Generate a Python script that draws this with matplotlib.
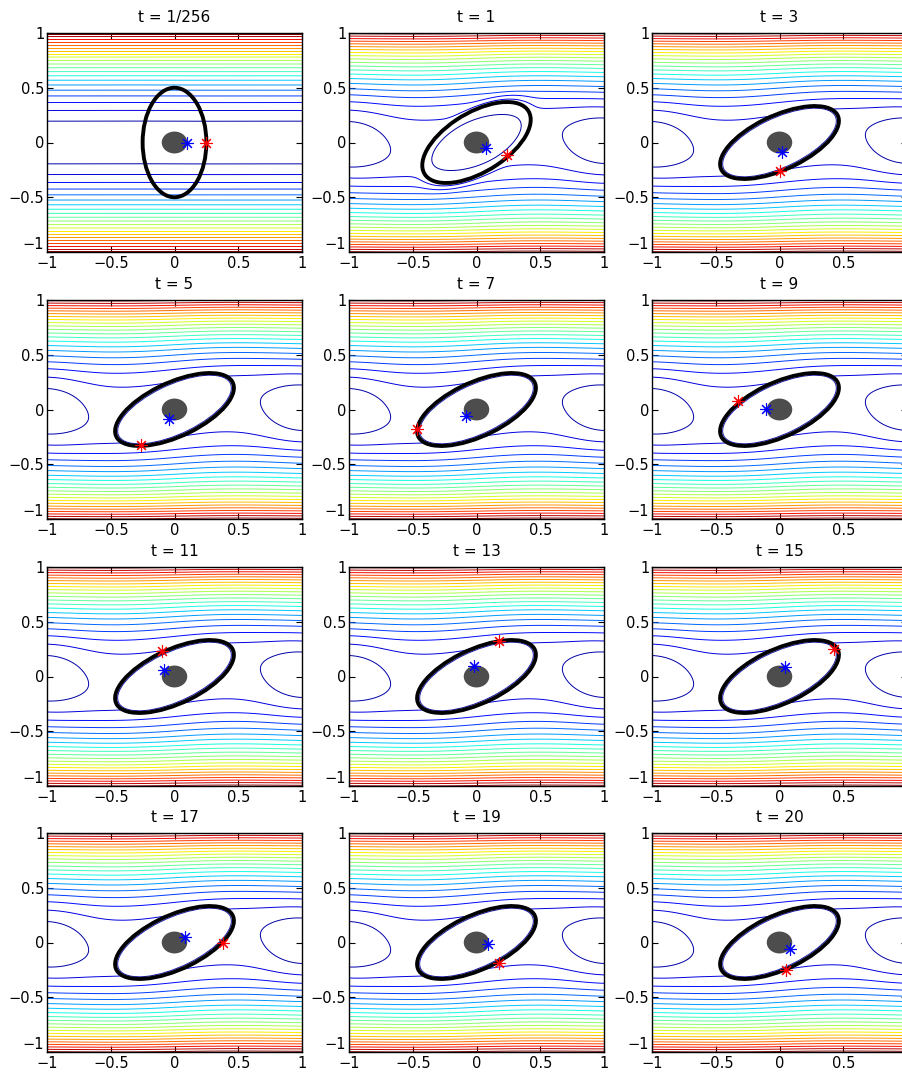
import numpy as np
import matplotlib
matplotlib.use('Agg')
import matplotlib.pyplot as plt
from matplotlib.patches import Ellipse, Circle

plt.rcParams['font.family'] = ['DejaVu Sans']

titles = ['t = 1/256', 't = 1', 't = 3', 't = 5', 't = 7', 't = 9',
          't = 11', 't = 13', 't = 15', 't = 17', 't = 19', 't = 20']
# flow state of each panel: initial, transient, steady tank-treading
state = ['init', 'tran'] + ['steady'] * 10

# vesicle (ellipse): semi-axes and tilt of the long axis in degrees
ell_a = [0.50, 0.50] + [0.52] * 10
ell_b = [0.25, 0.26] + [0.24] * 10
ell_ang = [90, 38] + [30] * 10

# tracer points: blue inside, red on the membrane
blue_x = [0.10, 0.075, 0.017, -0.04, -0.085, -0.107, -0.079, -0.02, 0.04, 0.084, 0.09, 0.082]
blue_y = [0.0, -0.052, -0.091, -0.089, -0.058, 0.009, 0.06, 0.10, 0.09, 0.046, -0.018, -0.057]
red_x = [0.25, 0.242, 0.0, -0.265, -0.463, -0.328, -0.097, 0.178, 0.43, 0.38, 0.176, 0.048]
red_y = [0.0, -0.112, -0.257, -0.323, -0.181, 0.08, 0.23, 0.32, 0.25, 0.0, -0.19, -0.248]

disk_r = 0.1
levels = 0.019 + 0.0238 * np.arange(21)
ticks = [-1, -0.5, 0, 0.5, 1]
ticklabels = ['\u22121', '\u22120.5', '0', '0.5', '1']


def rho(X, Y, a, b, ang):
    th = np.deg2rad(ang)
    xr = X * np.cos(th) + Y * np.sin(th)
    yr = -X * np.sin(th) + Y * np.cos(th)
    return np.hypot(xr / a, yr / b)


def stream(X, Y, kind, a, b, ang):
    psi = Y**2 / 2
    if kind == 'init':
        return psi + 0.004 * X * Y * np.exp(-(X**2 + Y**2) / 0.2)
    psi = psi - 0.06 * Y**2 * (1 - Y**2)
    # raised ridge along y=0 between the periodic recirculation eyes at x=+-1
    q = 1 - np.exp(-((1 - np.abs(X)) / 0.3)**2)
    psi = psi + 0.029 * q * np.exp(-(Y / 0.3)**2)
    psi = psi - 0.12 * X * Y * np.exp(-(X**2 + Y**2) / 0.49)
    r = rho(X, Y, a, b, ang)
    if kind == 'tran':
        wb = 1 - np.exp(-((r - 1) / 0.15)**2)
        psi = psi * wb + 0.037 * (1 - wb)
        psi = psi - 0.026 * np.exp(-(r / 0.85)**6)
        return psi
    return np.ma.masked_where(r < 1, psi)


x = np.linspace(-1, 1, 401)
X, Y = np.meshgrid(x, x)

fig = plt.figure(figsize=(9.02, 10.73), dpi=100)
W, H = 902, 1073
lefts = [47, 349, 652]
tops = [33, 300, 567, 833]
aw, ah = 255, 219

for i in range(12):
    r, c = divmod(i, 3)
    ax = fig.add_axes([lefts[c] / W, 1 - (tops[r] + ah) / H, aw / W, ah / H])
    psi = stream(X, Y, state[i], ell_a[i], ell_b[i], ell_ang[i])
    ax.contour(X, Y, psi, levels=levels, cmap='jet', vmin=0, vmax=0.5,
               linewidths=0.7)
    if state[i] == 'steady':
        ax.add_patch(Ellipse((0, 0), 2 * ell_a[i] * 0.96, 2 * ell_b[i] * 0.91,
                             angle=ell_ang[i], fill=False, ec='#1a1ab0', lw=0.7, zorder=3))
    ax.add_patch(Ellipse((0, 0), 2 * ell_a[i], 2 * ell_b[i], angle=ell_ang[i],
                         fill=False, ec='black', lw=2.8, zorder=4))
    ax.add_patch(Circle((0, 0), disk_r, fc='#4d4d4d', ec='none', zorder=5))
    ax.plot(blue_x[i], blue_y[i], ls='none', marker=(8, 2, 0), ms=9, mew=0.8,
            color='blue', zorder=6)
    ax.plot(red_x[i], red_y[i], ls='none', marker=(8, 2, 0), ms=9, mew=0.8,
            color='red', zorder=6)
    ax.set_xlim(-1, 1)
    ax.set_ylim(-1, 1)
    ax.set_xticks(ticks)
    ax.set_yticks(ticks)
    xl = list(ticklabels)
    if c == 2:
        xl[-1] = ''  # falls outside the picture
    ax.set_xticklabels(xl)
    ax.set_yticklabels(ticklabels)
    ax.tick_params(direction='in', top=True, right=True, length=4, labelsize=10.5)
    ax.tick_params(axis='y', pad=2)
    ax.tick_params(axis='x', pad=3)
    # the lowest y label sits a little above its tick, clear of the x labels
    ax.yaxis.get_major_ticks()[0].label1.set_va('bottom')
    for sp in ax.spines.values():
        sp.set_linewidth(1.0)
    ax.set_title(titles[i], fontsize=11, pad=8)

fig.savefig('out.png', dpi=100)
